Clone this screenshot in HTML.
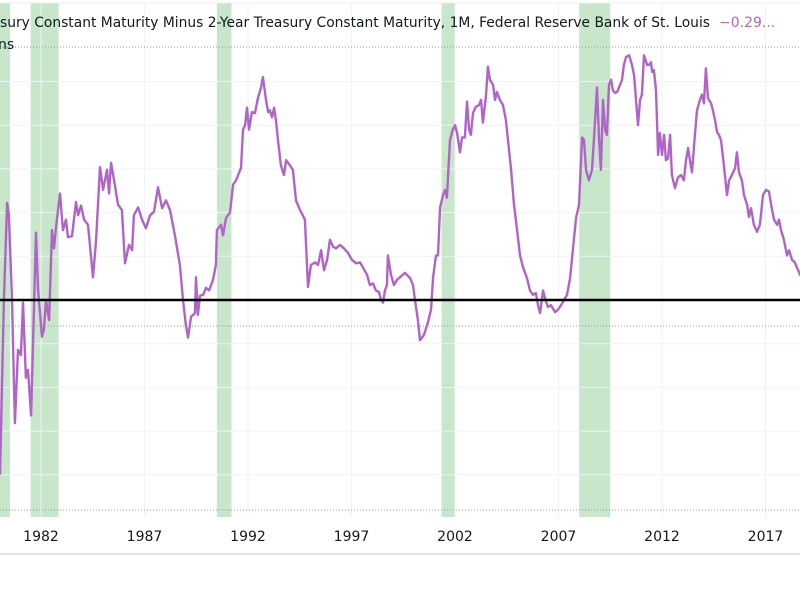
<!DOCTYPE html>
<html><head><meta charset="utf-8"><style>
html,body{margin:0;padding:0;background:#fff;width:800px;height:600px;overflow:hidden}
svg{display:block}
</style></head><body>
<svg id="chart" width="800" height="600" xmlns="http://www.w3.org/2000/svg" font-family="'DejaVu Sans','Liberation Sans',sans-serif">
<g id="bands"></g>
<g id="grid"></g>
<line x1="0" y1="3" x2="800" y2="3" stroke="#eceef2" stroke-width="1"/>
<line x1="0" y1="47" x2="800" y2="47" stroke="#9598a1" stroke-dasharray="1,2"/>
<line x1="0" y1="326" x2="800" y2="326" stroke="#9598a1" stroke-dasharray="1,2"/>
<line x1="0" y1="510" x2="800" y2="510" stroke="#9598a1" stroke-dasharray="1,2"/>
<path id="series" fill="none" stroke="#b064c8" stroke-width="2.4" stroke-linejoin="round"/>
<line id="zero" x1="0" x2="800" stroke="#000" stroke-width="2.5"/>
<g id="xaxis"></g>
<line x1="0" y1="554" x2="800" y2="554" stroke="#e0e3eb" stroke-width="2"/>
<text x="0" y="27" font-size="14" fill="#131722" textLength="710" lengthAdjust="spacingAndGlyphs">sury Constant Maturity Minus 2-Year Treasury Constant Maturity, 1M, Federal Reserve Bank of St. Louis</text>
<text x="719" y="27" font-size="14" fill="#b064c8">−0.29...</text>
<text x="-2" y="49" font-size="14" fill="#131722">ns</text>
</svg>
<script>
const dates=[1980.02,1980.21,1980.36,1980.45,1980.60,1980.74,1980.89,1981.03,1981.13,1981.27,1981.37,1981.52,1981.76,1981.86,1982.05,1982.14,1982.24,1982.39,1982.53,1982.63,1982.72,1982.92,1983.06,1983.21,1983.30,1983.50,1983.69,1983.79,1983.93,1984.08,1984.27,1984.51,1984.66,1984.85,1985.00,1985.19,1985.29,1985.38,1985.53,1985.72,1985.91,1986.06,1986.25,1986.40,1986.49,1986.69,1986.88,1987.07,1987.27,1987.46,1987.65,1987.85,1988.04,1988.23,1988.47,1988.71,1988.86,1989.00,1989.10,1989.25,1989.44,1989.49,1989.58,1989.68,1989.83,1989.97,1990.12,1990.31,1990.45,1990.50,1990.70,1990.79,1990.94,1991.13,1991.28,1991.42,1991.66,1991.76,1991.86,1991.95,1992.05,1992.19,1992.34,1992.48,1992.63,1992.72,1992.87,1992.97,1993.06,1993.16,1993.26,1993.35,1993.45,1993.59,1993.74,1993.84,1994.03,1994.17,1994.32,1994.51,1994.75,1994.90,1995.04,1995.24,1995.38,1995.53,1995.67,1995.82,1995.96,1996.11,1996.25,1996.44,1996.64,1996.83,1997.02,1997.22,1997.41,1997.56,1997.75,1997.89,1998.04,1998.18,1998.33,1998.43,1998.52,1998.62,1998.71,1998.76,1998.91,1999.05,1999.20,1999.34,1999.58,1999.83,1999.97,2000.07,2000.21,2000.31,2000.50,2000.70,2000.84,2000.94,2001.08,2001.18,2001.28,2001.42,2001.52,2001.61,2001.76,2001.90,2002.00,2002.10,2002.24,2002.34,2002.48,2002.58,2002.68,2002.77,2002.87,2003.01,2003.16,2003.26,2003.35,2003.50,2003.59,2003.69,2003.84,2003.93,2004.03,2004.17,2004.32,2004.46,2004.56,2004.71,2004.85,2005.00,2005.14,2005.28,2005.48,2005.62,2005.77,2005.91,2006.01,2006.11,2006.25,2006.35,2006.49,2006.64,2006.83,2006.98,2007.12,2007.27,2007.41,2007.56,2007.70,2007.85,2007.99,2008.14,2008.23,2008.33,2008.47,2008.62,2008.71,2008.86,2008.96,2009.05,2009.15,2009.25,2009.34,2009.44,2009.54,2009.63,2009.73,2009.83,2009.97,2010.07,2010.16,2010.26,2010.41,2010.55,2010.65,2010.74,2010.84,2010.94,2011.03,2011.13,2011.28,2011.37,2011.47,2011.52,2011.61,2011.71,2011.81,2011.90,2012.00,2012.10,2012.19,2012.29,2012.39,2012.48,2012.63,2012.77,2012.92,2013.06,2013.16,2013.26,2013.35,2013.45,2013.59,2013.69,2013.83,2013.93,2014.03,2014.12,2014.22,2014.37,2014.46,2014.56,2014.66,2014.75,2014.85,2014.99,2015.14,2015.24,2015.38,2015.53,2015.62,2015.72,2015.86,2015.96,2016.11,2016.20,2016.30,2016.44,2016.59,2016.73,2016.88,2017.02,2017.17,2017.27,2017.41,2017.56,2017.65,2017.75,2017.89,2018.04,2018.14,2018.28,2018.42,2018.52,2018.67,2018.81];
const values=[-2.00,0.00,1.11,0.97,0.00,-1.41,-0.57,-0.63,-0.03,-0.89,-0.80,-1.32,0.77,0.11,-0.42,-0.34,0.00,-0.23,0.80,0.59,0.82,1.22,0.80,0.92,0.72,0.73,1.12,0.97,1.08,0.92,0.86,0.26,0.69,1.52,1.26,1.49,1.22,1.57,1.37,1.09,1.03,0.42,0.63,0.57,0.97,1.06,0.92,0.82,0.97,1.01,1.29,1.05,1.14,1.03,0.74,0.40,0.00,-0.29,-0.43,-0.19,-0.15,0.26,-0.17,0.05,0.06,0.14,0.11,0.23,0.40,0.80,0.86,0.74,0.94,1.00,1.32,1.37,1.51,1.95,2.00,2.20,1.95,2.15,2.14,2.31,2.43,2.55,2.29,2.15,2.17,2.09,2.20,2.06,1.83,1.54,1.43,1.60,1.54,1.49,1.14,1.03,0.92,0.15,0.40,0.43,0.40,0.57,0.34,0.46,0.69,0.61,0.59,0.63,0.59,0.54,0.46,0.42,0.43,0.37,0.29,0.17,0.19,0.11,0.09,0.00,-0.03,0.11,0.17,0.51,0.29,0.17,0.23,0.26,0.31,0.25,0.17,0.00,-0.23,-0.46,-0.40,-0.25,-0.11,0.26,0.51,0.51,1.06,1.20,1.26,1.17,1.83,1.95,2.00,1.91,1.69,1.86,1.86,2.27,1.95,1.89,2.14,2.21,2.23,2.29,2.03,2.35,2.67,2.52,2.46,2.29,2.38,2.29,2.23,2.06,1.83,1.49,1.09,0.80,0.51,0.38,0.25,0.11,0.06,0.08,-0.06,-0.15,0.11,0.02,-0.08,-0.06,-0.14,-0.11,-0.06,0.00,0.06,0.25,0.59,0.94,1.09,1.86,1.83,1.49,1.37,1.49,1.83,2.43,1.83,1.49,2.29,1.95,1.89,2.46,2.52,2.40,2.37,2.38,2.46,2.52,2.69,2.78,2.80,2.69,2.57,2.31,2.00,2.29,2.35,2.80,2.69,2.69,2.72,2.61,2.63,2.40,1.66,1.91,1.66,1.89,1.60,1.62,1.89,1.43,1.28,1.40,1.43,1.37,1.60,1.74,1.60,1.46,1.89,2.17,2.29,2.35,2.25,2.65,2.31,2.25,2.17,2.06,1.92,1.89,1.83,1.54,1.20,1.37,1.43,1.51,1.69,1.46,1.37,1.20,1.09,0.95,1.05,0.86,0.78,0.86,1.20,1.26,1.24,1.09,0.92,0.86,0.92,0.80,0.69,0.51,0.57,0.46,0.43,0.37,0.29,0.23];
const recessionStarts=[1980.0,1981.5,1990.5,2001.35,2008.0];
const recessionEnds=[1980.5,1982.85,1991.2,2002.0,2009.5];
const yearTicks=[1982,1987,1992,1997,2002,2007,2012,2017];
const gridValues=[2.5,2.0,1.5,1.0,0.5,-0.5,-1.0,-1.5,-2.0];

const NS='http://www.w3.org/2000/svg';
const xs=y=>41+(y-1982)*20.7;
const ys=v=>300-v*87.4;
const PLOT_BOTTOM=517;

const bands=document.getElementById('bands');
recessionStarts.forEach((s,i)=>{
  const r=document.createElementNS(NS,'rect');
  r.setAttribute('x',xs(s));r.setAttribute('y',3);
  r.setAttribute('width',xs(recessionEnds[i])-xs(s));r.setAttribute('height',PLOT_BOTTOM-3);
  r.setAttribute('fill','#c8e6c9');
  
  
  bands.appendChild(r);
});

const grid=document.getElementById('grid');
gridValues.forEach(v=>{
  const l=document.createElementNS(NS,'line');
  l.setAttribute('x1',0);l.setAttribute('x2',800);
  l.setAttribute('y1',ys(v));l.setAttribute('y2',ys(v));
  l.setAttribute('stroke','#f0f2f5');
  
  
  grid.appendChild(l);
});
const xaxis=document.getElementById('xaxis');
yearTicks.forEach(y=>{
  const l=document.createElementNS(NS,'line');
  l.setAttribute('x1',xs(y));l.setAttribute('x2',xs(y));
  l.setAttribute('y1',3);l.setAttribute('y2',PLOT_BOTTOM);
  l.setAttribute('stroke','#f0f2f5');
  
  
  grid.appendChild(l);
  const t=document.createElementNS(NS,'text');
  t.setAttribute('x',xs(y));t.setAttribute('y',541);
  t.setAttribute('text-anchor','middle');t.setAttribute('font-size','14');
  t.setAttribute('fill','#131722');
  t.textContent=y;
  
  
  xaxis.appendChild(t);
});

let d='';
dates.forEach((t,i)=>{d+=(i?'L':'M')+xs(t).toFixed(1)+','+ys(values[i]).toFixed(1);});
document.getElementById('series').setAttribute('d',d);
const z=document.getElementById('zero');
z.setAttribute('y1',ys(0));z.setAttribute('y2',ys(0));
</script>
</body></html>
